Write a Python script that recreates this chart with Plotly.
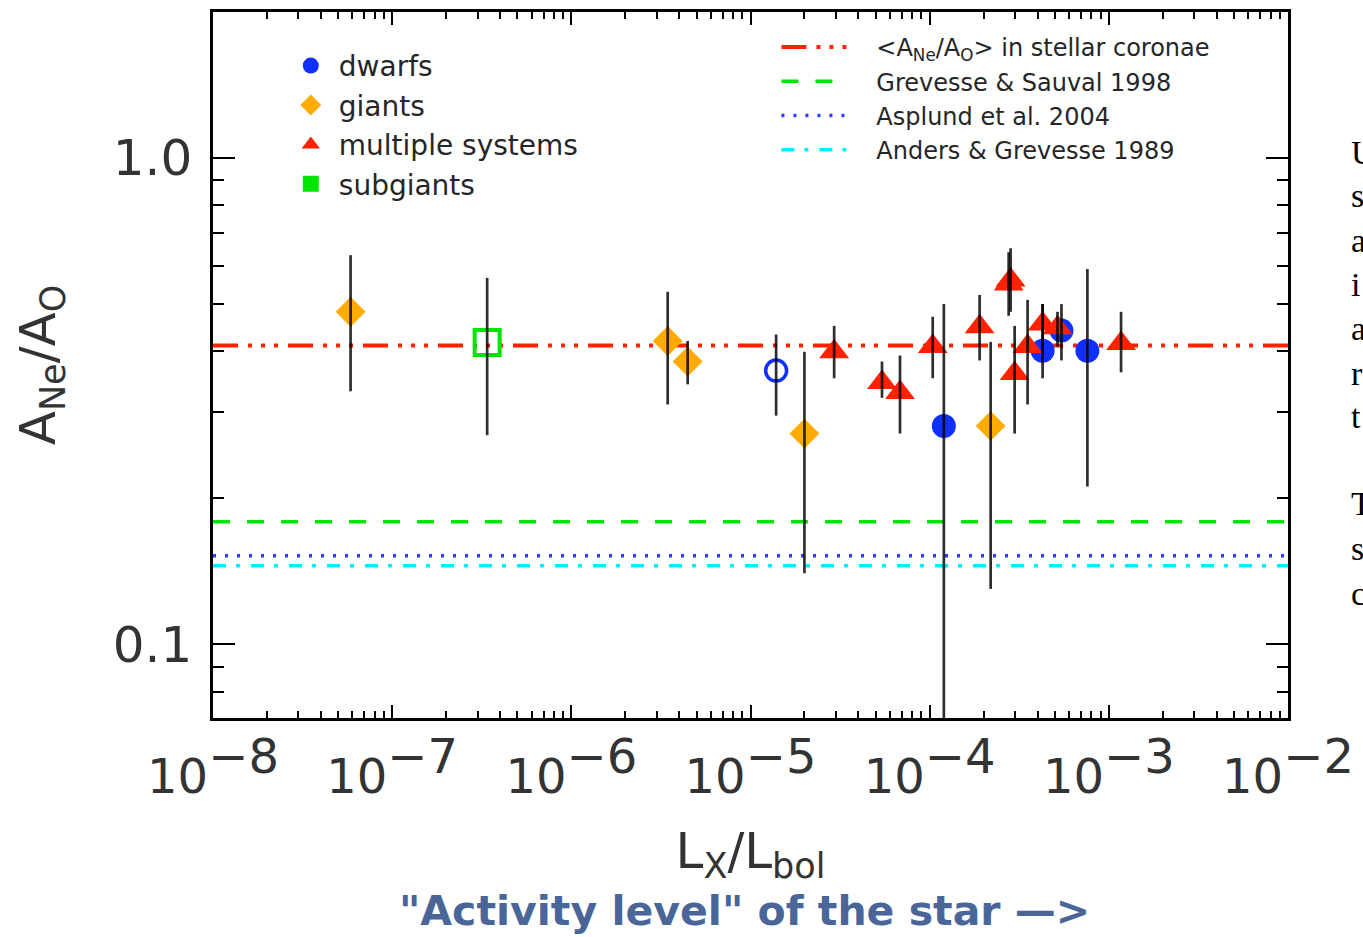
import math
import plotly.graph_objects as go

# ---------------- data ----------------
# giants (orange diamonds)
giants_x = [5.86e-8, 3.45e-6, 4.46e-6, 2.0e-5, 2.19e-4]
giants_y = [0.482, 0.420, 0.381, 0.271, 0.281]
giants_hi = [0.630, 0.530, 0.420, 0.399, 0.418]
giants_lo = [0.331, 0.311, 0.342, 0.140, 0.130]

# subgiants (green open square)
subgiants_x = [3.39e-7]
subgiants_y = [0.417]
subgiants_hi = [0.566]
subgiants_lo = [0.269]

# dwarfs (blue filled circles)
dwarfs_x = [1.20e-4, 4.27e-4, 5.44e-4, 7.59e-4]
dwarfs_y = [0.281, 0.401, 0.441, 0.401]
dwarfs_hi = [0.500, 0.500, 0.500, 0.590]
dwarfs_lo = [0.040, 0.352, 0.383, 0.211]

# dwarf shown with an open circle
dwarf_open_x = [1.39e-5]
dwarf_open_y = [0.365]
dwarf_open_hi = [0.433]
dwarf_open_lo = [0.295]

# multiple systems (red triangles)
multiple_x = [2.93e-5, 5.42e-5, 6.83e-5, 1.04e-4, 1.90e-4, 2.83e-4, 2.76e-4,
              2.98e-4, 3.52e-4, 4.27e-4, 5.17e-4, 1.17e-3]
multiple_y = [0.399, 0.345, 0.329, 0.409, 0.449, 0.560, 0.550,
              0.360, 0.409, 0.455, 0.447, 0.415]
multiple_hi = [0.451, 0.381, 0.392, 0.471, 0.522, 0.651, 0.639,
               0.451, 0.510, 0.500, 0.482, 0.482]
multiple_lo = [0.352, 0.321, 0.271, 0.352, 0.383, 0.482, 0.473,
               0.271, 0.311, 0.399, 0.409, 0.362]

# reference abundance ratios (horizontal lines)
ref_names = ["&lt;A<sub>Ne</sub>/A<sub>O</sub>&gt; in stellar coronae",
             "Grevesse &amp; Sauval 1998",
             "Asplund et al. 2004",
             "Anders &amp; Grevesse 1989"]
ref_values = [0.411, 0.1785, 0.152, 0.145]

# axis ticks
x_tick_exponents = [-8, -7, -6, -5, -4, -3, -2]
y_tick_values = [0.1, 1.0]
y_tick_labels = ["0.1", "1.0"]
x_range_log = [-8, -2]
y_range = [0.0706, 1.99]

# side text fragments (cut off at the right edge of the slide)
side_letters = ["U", "s", "a", "i", "a", "r", "t", "T", "s", "c"]

# ---------------- styles ----------------
BLUE = "#1030ff"
ORANGE = "#ffab00"
RED = "#ff2200"
GREEN = "#00e600"
CYAN = "#00eeff"
TXT = "#262626"
FONT = "DejaVu Sans"

ref_styles = [
    dict(color=RED, width=4, dash="25px,10px,4px,9px,4px,9px,4px,10px"),
    dict(color=GREEN, width=3.5, dash="17px,17px"),
    dict(color="#2a3cff", width=3.5, dash="3px,9px"),
    dict(color=CYAN, width=3.5, dash="13px,10px,4px,11px"),
]

fig = go.Figure()

x_span = [10 ** v for v in x_range_log]
nb = "\u00a0\u00a0\u00a0"
for name, val, st in zip(ref_names, ref_values, ref_styles):
    fig.add_trace(go.Scatter(
        x=x_span, y=[val, val], mode="lines", line=st,
        name=nb + name, legend="legend2", hoverinfo="skip"))

# markers
fig.add_trace(go.Scatter(
    x=dwarfs_x, y=dwarfs_y, mode="markers", name="dwarfs", legend="legend",
    marker=dict(symbol="circle", size=24, color=BLUE, line=dict(width=0))))
fig.add_trace(go.Scatter(
    x=giants_x, y=giants_y, mode="markers", name="giants", legend="legend",
    marker=dict(symbol="diamond", size=23, color=ORANGE, line=dict(width=0))))
fig.add_trace(go.Scatter(
    x=multiple_x, y=multiple_y, mode="markers", name="multiple systems", legend="legend",
    marker=dict(symbol="triangle-up", size=26, color=RED, line=dict(width=0))))
fig.add_trace(go.Scatter(
    x=[None], y=[None], mode="markers", name="subgiants", legend="legend",
    marker=dict(symbol="square", size=20, color=GREEN, line=dict(width=0))))
fig.add_trace(go.Scatter(
    x=subgiants_x, y=subgiants_y, mode="markers", showlegend=False,
    marker=dict(symbol="square-open", size=25, color=GREEN, line=dict(width=4, color=GREEN))))
fig.add_trace(go.Scatter(
    x=dwarf_open_x, y=dwarf_open_y, mode="markers", showlegend=False,
    marker=dict(symbol="circle-open", size=21, color=BLUE, line=dict(width=3.5, color=BLUE))))

# error bars drawn on top of the markers
groups = [
    (giants_x, giants_y, giants_hi, giants_lo),
    (subgiants_x, subgiants_y, subgiants_hi, subgiants_lo),
    (dwarfs_x, dwarfs_y, dwarfs_hi, dwarfs_lo),
    (dwarf_open_x, dwarf_open_y, dwarf_open_hi, dwarf_open_lo),
    (multiple_x, multiple_y, multiple_hi, multiple_lo),
]
for gx, gy, ghi, glo in groups:
    fig.add_trace(go.Scatter(
        x=gx, y=gy, mode="markers", showlegend=False, hoverinfo="skip",
        marker=dict(size=1, opacity=0),
        error_y=dict(type="data", symmetric=False,
                     array=[h - v for h, v in zip(ghi, gy)],
                     arrayminus=[v - l for l, v in zip(glo, gy)],
                     color="rgba(0,0,0,0.82)", thickness=2.7, width=0)))

# ticks
x_tickvals = [10.0 ** e for e in x_tick_exponents]
x_ticktext = ["10<sup><span style='font-size:48px'>\u2212%d</span></sup>" % (-e)
              for e in x_tick_exponents]
x_minor = [k * 10.0 ** e for e in x_tick_exponents[:-1] for k in range(2, 10)]
y_minor = [0.08, 0.09] + [k / 10 for k in range(2, 10)]

axis_common = dict(
    type="log", showline=True, linecolor="black", linewidth=2.5, mirror="ticks",
    ticks="inside", tickwidth=2, tickcolor="black", showgrid=False, zeroline=False,
)

fig.update_layout(
    width=1363, height=937,
    margin=dict(l=213, r=72, t=9, b=219),
    plot_bgcolor="white", paper_bgcolor="white",
    xaxis=dict(
        **axis_common,
        range=x_range_log,
        tickmode="array", tickvals=x_tickvals, ticktext=x_ticktext, ticklen=13,
        ticklabelstandoff=15,
        tickfont=dict(family=FONT, size=48, color="#333"),
        minor=dict(tickmode="array", tickvals=x_minor, ticks="inside", ticklen=7,
                   tickwidth=2, tickcolor="black", showgrid=False),
        title=dict(text="L<sub>X</sub>/L<sub>bol</sub>", standoff=30,
                   font=dict(family=FONT, size=50, color="#333")),
    ),
    yaxis=dict(
        **axis_common,
        range=[math.log10(y_range[0]), math.log10(y_range[1])],
        tickmode="array", tickvals=y_tick_values, ticktext=y_tick_labels, ticklen=22,
        ticklabelstandoff=8,
        tickfont=dict(family=FONT, size=50, color="#333"),
        minor=dict(tickmode="array", tickvals=y_minor, ticks="inside", ticklen=11,
                   tickwidth=2, tickcolor="black", showgrid=False),
        title=dict(text="A<sub>Ne</sub>/A<sub>O</sub>", standoff=42,
                   font=dict(family=FONT, size=50, color="#333")),
    ),
    legend=dict(
        x=(283 - 213) / 1078, y=(718 - 38) / 709, xanchor="left", yanchor="top",
        bgcolor="rgba(0,0,0,0)", borderwidth=0, itemwidth=46,
        font=dict(family=FONT, size=28, color=TXT),
    ),
    legend2=dict(
        x=(778 - 213) / 1078, y=(718 - 22) / 709, xanchor="left", yanchor="top",
        bgcolor="rgba(0,0,0,0)", borderwidth=0, itemwidth=67,
        font=dict(family=FONT, size=24, color=TXT),
    ),
    showlegend=True,
)

# bottom hand-written style caption
fig.add_annotation(
    xref="paper", yref="paper", x=(746 - 213) / 1078, y=(718 - 912) / 709,
    xanchor="center", yanchor="middle", showarrow=False,
    text="\"Activity level\" of the star \u2014&gt;",
    font=dict(family="DejaVu Sans", size=41, color="#4a6699", weight="bold"),
)

# cut-off slide text on the right edge
side_rows = [150, 193, 238, 283, 327, 372, 415, 503, 548, 593]
for letter, row in zip(side_letters, side_rows):
    fig.add_annotation(
        xref="paper", yref="paper", x=(1352 - 213) / 1078, y=(718 - row) / 709,
        xanchor="left", yanchor="middle", showarrow=False, text=letter,
        font=dict(family="Liberation Serif", size=34, color="black"),
    )

fig.write_html("out.html", config={"displayModeBar": False},
               post_script="document.body.style.margin='0';")
